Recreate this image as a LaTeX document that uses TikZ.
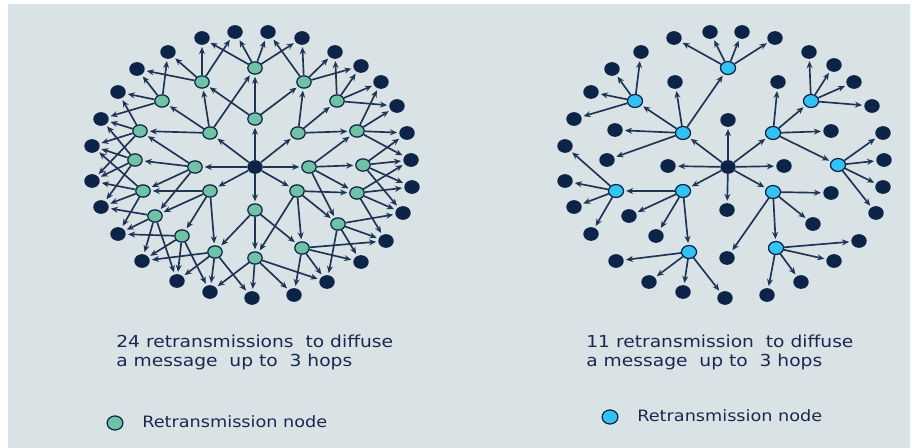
\documentclass[tikz,border=0pt]{standalone}
\usepackage{fontspec}
\setmainfont{DejaVu Sans}[FakeStretch=1.13]
\usetikzlibrary{shapes.geometric,arrows.meta}
\definecolor{bgc}{HTML}{D9E3E6}
\definecolor{navy}{HTML}{0B2447}
\definecolor{wire}{HTML}{1E3455}
\definecolor{relayg}{HTML}{70C2A7}
\definecolor{relayb}{HTML}{33C3F3}
\definecolor{txt}{HTML}{1A2850}
\tikzset{
  leaf/.style={ellipse,fill=navy,draw=none,minimum width=8.8pt,minimum height=7.8pt,inner sep=0pt},
  greenrelay/.style={ellipse,fill=relayg,draw=navy,line width=0.7pt,minimum width=8.2pt,minimum height=7pt,inner sep=0pt},
  bluerelay/.style={ellipse,fill=relayb,draw=navy,line width=0.7pt,minimum width=8.6pt,minimum height=7.4pt,inner sep=0pt},
  link/.style={draw=wire,line width=0.95pt,-{Stealth[length=4pt,width=3.4pt]},shorten >=1.1pt},
  caption/.style={font=\fontsize{9.4pt}{10.8pt}\selectfont,text=txt,align=left,inner sep=0pt},
  keytext/.style={font=\fontsize{8.9pt}{10.8pt}\selectfont,text=txt,inner sep=0pt}
}
\begin{document}
\begin{tikzpicture}[x=0.02cm,y=-0.02cm]
\useasboundingbox (0,0) rectangle (912,448);
\fill[white] (0,0) rectangle (912,448);
\fill[bgc] (8,4) rectangle (910,448);

% ---------- left network: flooding ----------
\node[leaf] (lc) at (255,167) {};
\foreach \n/\x/\y in {lg1/202/82, lg2/255/68, lg3/304/82, lg4/162/101, lg5/337/101,
  lg6/255/119, lg7/210/133, lg8/298/133, lg9/140/131, lg10/357/131, lg11/135/160,
  lg12/195/167, lg13/309/167, lg14/363/165, lg15/143/191, lg16/210/191, lg17/297/191,
  lg18/357/193, lg19/155/216, lg20/255/210, lg21/338/224, lg22/182/236, lg23/215/252,
  lg24/302/248, lg25/255/258}
  \node[greenrelay] (\n) at (\x,\y) {};
\foreach \n/\x/\y in {ld1/235/32, ld2/268/32, ld3/202/38, ld4/302/38, ld5/168/52,
  ld6/335/52, ld7/137/69, ld8/361/66, ld9/118/92, ld10/381/82, ld11/101/119,
  ld12/397/106, ld13/92/146, ld14/407/133, ld15/92/181, ld16/411/160, ld17/101/207,
  ld18/412/187, ld19/118/234, ld20/403/213, ld21/142/261, ld22/386/241, ld23/177/281,
  ld24/361/262, ld25/210/292, ld26/327/282, ld27/252/298, ld28/294/295}
  \node[leaf] (\n) at (\x,\y) {};

\foreach \a/\b in {lc/lg6, lc/lg7, lc/lg8, lc/lg12, lc/lg13, lc/lg16, lc/lg17, lc/lg20,
  lg6/lg2, lg6/lg1, lg6/lg3,
  lg7/lg1, lg7/lg4, lg7/lg9, lg7/lg2,
  lg8/lg3, lg8/lg10, lg8/lg5,
  lg12/lg11, lg12/lg15, lg12/lg19, lg12/lg9,
  lg16/lg15, lg16/lg22, lg16/lg23, lg16/lg19,
  lg20/lg25, lg20/lg24, lg20/lg23,
  lg17/lg18, lg17/lg24, lg17/lg25, lg17/lg21,
  lg13/lg14, lg13/lg18, lg13/lg21, lg13/lg10,
  lg1/ld3, lg1/ld1, lg1/ld5, lg1/ld7,
  lg4/ld5, lg4/ld7, lg4/ld9, lg4/ld11,
  lg2/ld1, lg2/ld2, lg2/ld4, lg2/ld3,
  lg3/ld4, lg3/ld6, lg3/ld8, lg3/ld2,
  lg5/ld6, lg5/ld8, lg5/ld10, lg5/ld12,
  lg10/ld10, lg10/ld12, lg10/ld14, lg10/ld16,
  lg14/ld16, lg14/ld14, lg14/ld18, lg14/ld20,
  lg18/ld18, lg18/ld20, lg18/ld22, lg18/ld16,
  lg21/ld20, lg21/ld22, lg21/ld24, lg21/ld26,
  lg24/ld22, lg24/ld24, lg24/ld26, lg24/ld28,
  lg25/ld27, lg25/ld28, lg25/ld26, lg25/ld25,
  lg23/ld21, lg23/ld25, lg23/ld23, lg23/ld27,
  lg22/ld19, lg22/ld23, lg22/ld25, lg22/ld21,
  lg19/ld17, lg19/ld19, lg19/ld21, lg19/ld23,
  lg15/ld15, lg15/ld17, lg15/ld19, lg15/ld13,
  lg11/ld13, lg11/ld15, lg11/ld11, lg11/ld17,
  lg9/ld11, lg9/ld9, lg9/ld13, lg9/ld15}
  \draw[link] (\a) -- (\b);

% ---------- right network: selected relays ----------
\node[leaf] (rc) at (728,167) {};
\foreach \n/\x/\y in {rb1/635/101, rb2/683/133, rb3/728/68, rb4/811/101, rb5/773/133,
  rb6/838/165, rb7/616/191, rb8/683/191, rb9/689/252, rb10/773/192, rb11/776/248}
  \node[bluerelay] (\n) at (\x,\y) {};
\foreach \n/\x/\y in {rd1/674/38, rd2/710/32, rd3/742/32, rd4/775/38, rd5/641/52,
  rd6/809/52, rd7/612/69, rd8/834/65, rd9/675/82, rd10/778/82, rd11/591/92,
  rd12/854/82, rd13/574/119, rd14/728/120, rd15/872/106, rd16/615/130, rd17/831/131,
  rd18/883/133, rd19/565/146, rd20/607/160, rd21/668/166, rd22/784/166, rd23/884/160,
  rd24/565/181, rd25/883/187, rd26/574/207, rd27/629/216, rd28/831/193, rd29/876/213,
  rd30/591/234, rd31/656/236, rd32/727/210, rd33/813/224, rd34/859/241, rd35/616/261,
  rd36/727/258, rd37/834/261, rd38/649/282, rd39/683/292, rd40/725/298, rd41/767/295,
  rd42/801/282}
  \node[leaf] (\n) at (\x,\y) {};

\foreach \a/\b in {rc/rb2, rc/rb5, rc/rb8, rc/rb10, rc/rd14, rc/rd21, rc/rd22, rc/rd32,
  rb2/rb1, rb2/rd9, rb2/rb3, rb2/rd16, rb2/rd20,
  rb1/rd5, rb1/rd7, rb1/rd11, rb1/rd13,
  rb3/rd1, rb3/rd2, rb3/rd3, rb3/rd4,
  rb5/rd10, rb5/rb4, rb5/rd17, rb5/rb6,
  rb4/rd6, rb4/rd8, rb4/rd12, rb4/rd15,
  rb6/rd18, rb6/rd23, rb6/rd25, rb6/rd29,
  rb10/rb11, rb10/rd28, rb10/rd33, rb10/rd36,
  rb11/rd34, rb11/rd37, rb11/rd42, rb11/rd41,
  rb8/rb7, rb8/rb9, rb8/rd27, rb8/rd31,
  rb7/rd19, rb7/rd24, rb7/rd26, rb7/rd30,
  rb9/rd35, rb9/rd38, rb9/rd39, rb9/rd40}
  \draw[link] (\a) -- (\b);

% ---------- captions and legends ----------
\node[caption,anchor=north west] (lcap) at (116,335)
  {24 retransmissions\ \ to diffuse\\a message\ \ up to\ \ 3 hops};
\node[caption,anchor=north west] (rcap) at (586,335)
  {11 retransmission\ \ to diffuse\\a message\ \ up to\ \ 3 hops};
\node[greenrelay,minimum width=9pt,minimum height=8pt] (lkey) at (115,423) {};
\node[keytext,anchor=west] (lkeytxt) at (142,422) {Retransmission\ node};
\node[bluerelay,minimum width=9pt,minimum height=8pt] (rkey) at (610,417) {};
\node[keytext,anchor=west] (rkeytxt) at (637,416) {Retransmission\ node};
\end{tikzpicture}
\end{document}
